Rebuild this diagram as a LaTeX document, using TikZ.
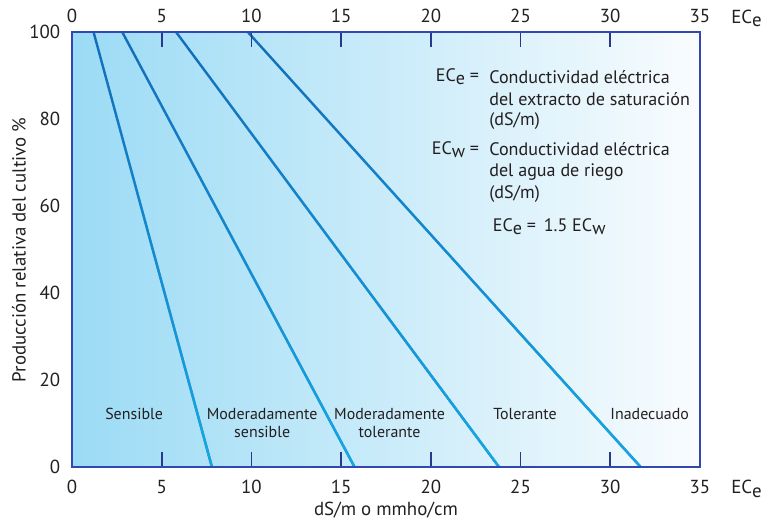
\documentclass[tikz,border=0pt]{standalone}
\usepackage{fontspec}
\setmainfont{PT Sans}
\usepackage{tikz}
\usetikzlibrary{fadings}
\definecolor{fondoizq}{RGB}{155,219,245}
\definecolor{fondomed}{RGB}{198,231,247}
\definecolor{fondoder}{RGB}{249,252,254}
\definecolor{marco}{RGB}{48,72,176}
\definecolor{marca}{RGB}{40,56,140}
\definecolor{rectaoscura}{RGB}{18,108,186}
\definecolor{rectaclara}{RGB}{20,170,230}
\definecolor{texto}{RGB}{35,31,32}
\newcommand{\ECsub}[1]{EC\raisebox{-0.35ex}{#1}}
\newcommand{\numfont}{\fontsize{14.2}{16}\selectfont}
\newcommand{\leyfont}{\fontsize{13.6}{16}\selectfont}
\newcommand{\catfont}{\fontsize{12}{13.5}\selectfont}

\begin{document}
\begin{tikzpicture}[x=0.4747cm,y=0.1151cm,
  num/.style={text=texto,font=\numfont},
  ley/.style={text=texto,font=\leyfont,anchor=west},
  cat/.style={text=texto,font=\catfont,align=center},
  tick/.style={marca,line width=1.3pt},
  recta/.style={rectaoscura,line width=1.8pt}]
\useasboundingbox (-4.013,-13.10) rectangle (38.85,107.36);
% fondo con degradado
\shade[left color=fondoizq,middle color=fondomed,right color=fondoder] (0,0) rectangle (35,100);
% rectas de tolerancia
\draw[recta] (1.2,100)--(7.8,0);
\draw[recta] (2.8,100)--(15.75,0);
\draw[recta] (5.8,100)--(23.8,0);
\draw[recta] (9.8,100)--(31.7,0);
\draw[recta,rectaclara,path fading=north] (1.2,100)--(7.8,0);
\draw[recta,rectaclara,path fading=north] (2.8,100)--(15.75,0);
\draw[recta,rectaclara,path fading=north] (5.8,100)--(23.8,0);
\draw[recta,rectaclara,path fading=north] (9.8,100)--(31.7,0);
% marcas
\draw[tick] (5,0)--(5,3.45);
\draw[tick] (10,0)--(10,3.45);
\draw[tick] (15,0)--(15,3.45);
\draw[tick] (20,0)--(20,3.45);
\draw[tick] (25,0)--(25,3.45);
\draw[tick] (30,0)--(30,3.45);
\draw[tick] (5,100)--(5,96.55);
\draw[tick] (10,100)--(10,96.55);
\draw[tick] (15,100)--(15,96.55);
\draw[tick] (20,100)--(20,96.55);
\draw[tick] (25,100)--(25,96.55);
\draw[tick] (30,100)--(30,96.55);
% marco
\draw[marco,line width=1.3pt] (0,0) rectangle (35,100);
% numeros del eje superior
\node[num] (s0) at (0,103.6) {0};
\node[num] (s5) at (5,103.6) {5};
\node[num] (s10) at (10,103.6) {10};
\node[num] (s15) at (15,103.6) {15};
\node[num] (s20) at (20,103.6) {20};
\node[num] (s25) at (25,103.6) {25};
\node[num] (s30) at (30,103.6) {30};
\node[num] (s35) at (35,103.6) {35};
\node[num] (ecsup) at (37.6,103.1) {\ECsub{e}};
% numeros del eje inferior
\node[num] (i0) at (0,-4.5) {0};
\node[num] (i5) at (5,-4.5) {5};
\node[num] (i10) at (10,-4.5) {10};
\node[num] (i15) at (15,-4.5) {15};
\node[num] (i20) at (20,-4.5) {20};
\node[num] (i25) at (25,-4.5) {25};
\node[num] (i30) at (30,-4.5) {30};
\node[num] (i35) at (35,-4.5) {35};
\node[num] (ecinf) at (37.6,-5.0) {\ECsub{e}};
% eje vertical
\node[num,anchor=east] (v0) at (-0.4,0) {0};
\node[num,anchor=east] (v20) at (-0.4,20) {20};
\node[num,anchor=east] (v40) at (-0.4,40) {40};
\node[num,anchor=east] (v60) at (-0.4,60) {60};
\node[num,anchor=east] (v80) at (-0.4,80) {80};
\node[num,anchor=east] (v100) at (-0.4,100) {100};
\node[num,rotate=90] (ytitulo) at (-2.95,49.9) {Producción relativa del cultivo \%};
\node[num] (xtitulo) at (17.5,-9.9) {dS/m o mmho/cm};
% categorias
\node[cat] (sensible) at (3.46,12.2) {Sensible};
\node[cat] (modsens) at (10.6,10.1) {Moderadamente\\sensible};
\node[cat] (modtol) at (17.7,10.1) {Moderadamente\\tolerante};
\node[cat] (tolerante) at (25.25,12.2) {Tolerante};
\node[cat] (inadecuado) at (32.2,12.2) {Inadecuado};
% leyenda
\node[ley,anchor=east] (ece) at (22.95,89.7) {\ECsub{e} =};
\node[ley] (ece1) at (23.0,89.7) {Conductividad eléctrica};
\node[ley] (ece2) at (23.0,84.6) {del extracto de saturación};
\node[ley] (ece3) at (23.0,79.5) {(dS/m)};
\node[ley,anchor=east] (ecw) at (22.95,73.0) {\ECsub{w} =};
\node[ley] (ecw1) at (23.0,73.0) {Conductividad eléctrica};
\node[ley] (ecw2) at (23.0,67.9) {del agua de riego};
\node[ley] (ecw3) at (23.0,62.8) {(dS/m)};
\node[ley] (relacion) at (23.2,55.3) {\ECsub{e} = \,1.5 \ECsub{w}};
\end{tikzpicture}
\end{document}
